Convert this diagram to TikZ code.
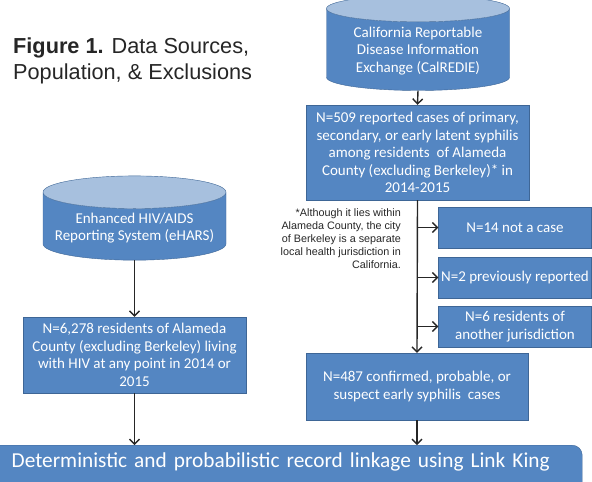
\documentclass[tikz,border=0pt]{standalone}
\usepackage{fontspec}
\setmainfont{Carlito}
\newfontfamily\arialfont{Liberation Sans}
\usetikzlibrary{shapes.geometric,arrows.meta,positioning,calc}
\definecolor{boxblue}{RGB}{84,134,194}
\definecolor{boxedge}{RGB}{62,102,150}
\definecolor{topblue}{RGB}{167,192,222}
\definecolor{linegray}{RGB}{38,38,38}
\tikzset{
  flowbox/.style={draw=boxedge,fill=boxblue,text=white,align=center,inner sep=2pt,
    font=\fontsize{15}{17.5}\selectfont},
  srcdb/.style={cylinder,shape border rotate=90,aspect=0.2,draw=boxedge,
    cylinder uses custom fill,cylinder body fill=boxblue,cylinder end fill=topblue,
    text=white,align=center,inner sep=2pt,font=\fontsize{15}{17.5}\selectfont},
  flowarrow/.style={-{Straight Barb[length=5pt,width=10pt]},line width=1.4pt,draw=linegray}
}
\begin{document}
\begin{tikzpicture}[x=1pt,y=-1pt]
  \clip (0,0) rectangle (592,482);
  % Title
  \node[anchor=north west,align=left,inner sep=0pt,text=linegray,
    font=\arialfont\fontsize{21.7}{26}\selectfont] (title) at (13,38)
    {\textbf{Figure 1.} Data Sources,\\Population, \& Exclusions};
  % Sources
  \node[srcdb,minimum width=183pt,inner ysep=5pt] (calredie) at (418,51)
    {California Reportable\\Disease Information\\Exchange (CalREDIE)};
  \node[srcdb,minimum width=183pt,inner ysep=4pt] (ehars) at (134.5,228)
    {Enhanced HIV/AIDS\\Reporting System (eHARS)};
  % Syphilis cases
  \node[flowbox,minimum width=223pt,minimum height=95pt] (cases509) at (417.5,152.5)
    {N=509 reported cases of primary,\\secondary, or early latent syphilis\\among residents\ \ of Alameda\\County (excluding Berkeley)* in\\2014-2015};
  \node[flowbox,minimum width=153pt,minimum height=41pt] (notcase) at (515,227.5)
    {N=14 not a case};
  \node[flowbox,minimum width=153pt,minimum height=41pt] (prevrep) at (515,277.5)
    {N=2 previously reported};
  \node[flowbox,minimum width=153pt,minimum height=41pt] (otherjur) at (515,326.5)
    {N=6 residents of\\another jurisdiction};
  \node[flowbox,minimum width=222pt,minimum height=67pt] (final487) at (417,386.5)
    {N=487 confirmed, probable, or\\suspect early syphilis\ \ cases};
  % HIV cases
  \node[flowbox,minimum width=223pt,minimum height=76pt] (hiv6278) at (134.5,355)
    {N=6,278 residents of Alameda\\County (excluding Berkeley) living\\with HIV at any point in 2014 or\\2015};
  % Linkage
  \node[flowbox,rounded corners=10pt,anchor=north west,minimum width=592pt,minimum height=60pt,
    text width=585pt,align=left,text depth=30pt,font=\fontsize{21.3}{25}\selectfont] (linkage) at (-10,445)
    {\hspace*{18pt}Deterministic and probabilistic record linkage using Link King};
  % Footnote
  \node[anchor=north east,align=right,inner sep=0pt,text=linegray,
    font=\arialfont\fontsize{10.8}{13}\selectfont] (note) at (401,208)
    {*Although it lies within\\Alameda County, the city\\of Berkeley is a separate\\local health jurisdiction in\\California.};
  % Arrows
  \draw[flowarrow] (calredie.south) -- (cases509.north);
  \draw[flowarrow] (cases509.south) -- (final487.north);
  \draw[flowarrow] (cases509.south |- notcase.west) -- (notcase.west);
  \draw[flowarrow] (cases509.south |- prevrep.west) -- (prevrep.west);
  \draw[flowarrow] (cases509.south |- otherjur.west) -- (otherjur.west);
  \draw[flowarrow] (ehars.south) -- (hiv6278.north);
  \draw[flowarrow] (hiv6278.south) -- (hiv6278.south |- linkage.north);
  \draw[flowarrow] (final487.south) -- (final487.south |- linkage.north);
\end{tikzpicture}
\end{document}
